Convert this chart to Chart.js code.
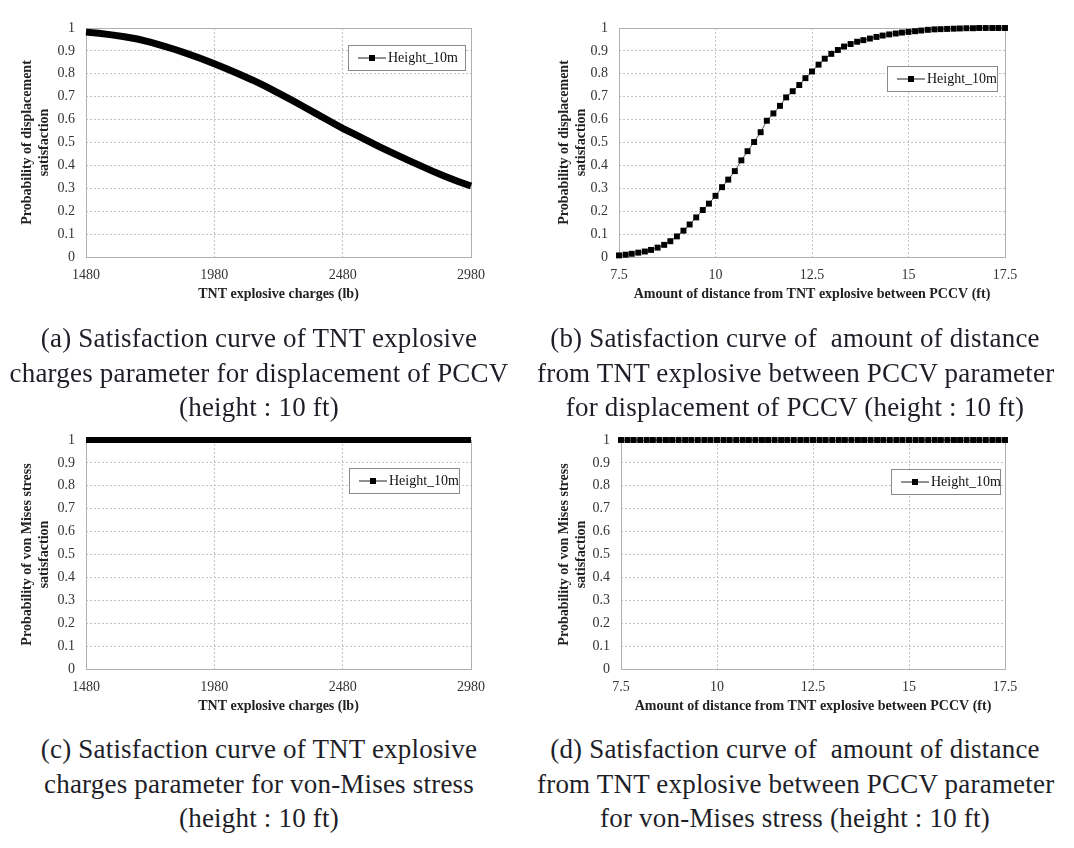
<!DOCTYPE html>
<html>
<head>
<meta charset="utf-8">
<script src="https://cdn.jsdelivr.net/npm/chart.js@4.4.0/dist/chart.umd.min.js"></script>
<style>
  body { margin: 0; background: #fff; width: 1074px; height: 848px; position: relative; overflow: hidden; }
  .panel { position: absolute; width: 537px; height: 310px; }
  .cap {
    position: absolute; text-align: center; color: #1e1e28;
    font-family: "Liberation Serif", "Times New Roman", serif;
    font-size: 27px; letter-spacing: 0.2px; line-height: 34.5px; white-space: nowrap;
  }
</style>
</head>
<body>
<div class="panel" style="left:0;top:0"><canvas id="chartA"></canvas></div>
<div class="panel" style="left:537px;top:0"><canvas id="chartB"></canvas></div>
<div class="panel" style="left:0;top:412px"><canvas id="chartC"></canvas></div>
<div class="panel" style="left:537px;top:412px"><canvas id="chartD"></canvas></div>

<div class="cap" style="left:0;top:321px;width:518px">(a) Satisfaction curve of TNT explosive<br>charges parameter for displacement of PCCV<br>(height : 10 ft)</div>
<div class="cap" style="left:537px;top:321px;width:516px">(b) Satisfaction curve of&nbsp; amount of distance<br>from TNT explosive between PCCV parameter<br>for displacement of PCCV (height : 10 ft)</div>
<div class="cap" style="left:0;top:732px;width:518px">(c) Satisfaction curve of TNT explosive<br>charges parameter for von-Mises stress<br>(height : 10 ft)</div>
<div class="cap" style="left:537px;top:732px;width:516px">(d) Satisfaction curve of&nbsp; amount of distance<br>from TNT explosive between PCCV parameter<br>for von-Mises stress (height : 10 ft)</div>

<script>
// TNT explosive charges (lb), step 50
const charges = [1480, 1530, 1580, 1630, 1680, 1730, 1780, 1830, 1880, 1930,
  1980, 2030, 2080, 2130, 2180, 2230, 2280, 2330, 2380, 2430,
  2480, 2530, 2580, 2630, 2680, 2730, 2780, 2830, 2880, 2930, 2980];
const dispByCharge = [0.982, 0.977, 0.970, 0.962, 0.952, 0.938, 0.922, 0.905, 0.886, 0.866,
  0.844, 0.821, 0.797, 0.772, 0.745, 0.716, 0.686, 0.655, 0.624, 0.593,
  0.562, 0.534, 0.506, 0.478, 0.451, 0.425, 0.400, 0.375, 0.352, 0.330, 0.310];
const stressByCharge = [1, 1, 1, 1, 1, 1, 1, 1, 1, 1,
  1, 1, 1, 1, 1, 1, 1, 1, 1, 1,
  1, 1, 1, 1, 1, 1, 1, 1, 1, 1, 1];

// distance from TNT explosive (ft)
const distances = [7.5, 7.67, 7.83, 8, 8.17, 8.33, 8.5, 8.67, 8.83, 9,
  9.17, 9.33, 9.5, 9.67, 9.83, 10, 10.17, 10.33, 10.5, 10.67,
  10.83, 11, 11.17, 11.33, 11.5, 11.67, 11.83, 12, 12.17, 12.33,
  12.5, 12.67, 12.83, 13, 13.17, 13.33, 13.5, 13.67, 13.83, 14,
  14.17, 14.33, 14.5, 14.67, 14.83, 15, 15.17, 15.33, 15.5, 15.67,
  15.83, 16, 16.17, 16.33, 16.5, 16.67, 16.83, 17, 17.17, 17.33, 17.5];
const dispByDistance = [0.007, 0.010, 0.014, 0.019, 0.024, 0.031, 0.041, 0.053, 0.069, 0.090,
  0.115, 0.142, 0.173, 0.205, 0.233, 0.267, 0.305, 0.338, 0.375, 0.422,
  0.462, 0.502, 0.545, 0.595, 0.627, 0.660, 0.697, 0.724, 0.751, 0.781,
  0.810, 0.840, 0.866, 0.887, 0.904, 0.919, 0.930, 0.940, 0.947, 0.954,
  0.961, 0.967, 0.972, 0.976, 0.980, 0.983, 0.986, 0.989, 0.992, 0.994,
  0.995, 0.996, 0.997, 0.998, 0.999, 0.999, 1.0, 1.0, 1.0, 1.0, 1.0];
const stressByDistance = [1, 1, 1, 1, 1, 1, 1, 1, 1, 1,
  1, 1, 1, 1, 1, 1, 1, 1, 1, 1,
  1, 1, 1, 1, 1, 1, 1, 1, 1, 1,
  1, 1, 1, 1, 1, 1, 1, 1, 1, 1,
  1, 1, 1, 1, 1, 1, 1, 1, 1, 1,
  1, 1, 1, 1, 1, 1, 1, 1, 1, 1, 1];

const chargeTicks = [1480, 1980, 2480, 2980];
const distanceTicks = [7.5, 10, 12.5, 15, 17.5];
const probTicks = [0, 0.1, 0.2, 0.3, 0.4, 0.5, 0.6, 0.7, 0.8, 0.9, 1];
const seriesName = 'Height_10m';

const serif = '"Liberation Serif", "Times New Roman", serif';

// plot frame drawn under the data
const framePlugin = {
  id: 'frame',
  beforeDatasetsDraw(chart) {
    const { ctx, chartArea: a } = chart;
    ctx.save();
    ctx.strokeStyle = '#b0b0b0';
    ctx.lineWidth = 1;
    ctx.strokeRect(Math.round(a.left) + 0.5, Math.round(a.top) + 0.5,
      Math.round(a.right - a.left), Math.round(a.bottom - a.top));
    ctx.restore();
  }
};

// Excel-like boxed legend
const boxLegendPlugin = {
  id: 'boxLegend',
  afterDraw(chart, args, opts) {
    const { ctx } = chart;
    const { x, y, w, h } = opts;
    ctx.save();
    ctx.fillStyle = '#fff';
    ctx.fillRect(x, y, w, h);
    ctx.strokeStyle = '#8a8a8a';
    ctx.lineWidth = 1;
    ctx.strokeRect(x + 0.5, y + 0.5, w, h);
    const my = y + h / 2 + 0.5;
    ctx.strokeStyle = '#222';
    ctx.beginPath();
    ctx.moveTo(x + 10, my);
    ctx.lineTo(x + 38, my);
    ctx.stroke();
    ctx.fillStyle = '#000';
    ctx.fillRect(x + 21, my - 3, 6, 6);
    ctx.font = '14px ' + serif;
    ctx.textBaseline = 'middle';
    ctx.fillStyle = '#111';
    ctx.fillText(seriesName, x + 40, my);
    ctx.restore();
  }
};

function makeChart(id, xs, ys, opt) {
  const points = xs.map((x, i) => ({ x: x, y: ys[i] }));
  new Chart(document.getElementById(id), {
    type: 'line',
    data: {
      datasets: [{
        label: seriesName,
        data: points,
        borderColor: opt.lineColor,
        backgroundColor: '#000',
        pointBackgroundColor: '#000',
        borderWidth: opt.lineWidth,
        borderCapStyle: 'butt',
        pointStyle: 'rect',
        pointRadius: opt.pointRadius,
        pointBorderWidth: 0,
        tension: 0,
        clip: false
      }]
    },
    options: {
      responsive: true,
      maintainAspectRatio: false,
      animation: false,
      events: [],
      layout: { padding: { left: 0, top: 28, right: opt.padRight, bottom: 0 } },
      plugins: {
        legend: { display: false },
        tooltip: { enabled: false },
        boxLegend: opt.legend
      },
      scales: {
        x: {
          type: 'linear',
          min: opt.xTicks[0],
          max: opt.xTicks[opt.xTicks.length - 1],
          afterBuildTicks: s => { s.ticks = opt.xTicks.map(v => ({ value: v })); },
          afterFit: s => { s.height = 53; },
          grid: { color: '#c4c4c4', drawTicks: false },
          border: { display: false, dash: [2, 2] },
          ticks: {
            color: '#333', padding: 10, font: { family: serif, size: 14 }, maxRotation: 0,
            callback: v => String(v)
          },
          title: {
            display: true, text: opt.xTitle, color: '#222',
            font: { family: serif, size: 14, weight: 'bold' },
            padding: { top: 0, bottom: 7 }
          }
        },
        y: {
          min: 0,
          max: 1,
          afterBuildTicks: s => { s.ticks = probTicks.map(v => ({ value: v })); },
          afterFit: s => { s.width = opt.yWidth; },
          grid: { color: '#c4c4c4', drawTicks: false },
          border: { display: false, dash: [2, 2] },
          ticks: {
            color: '#333', padding: 11, font: { family: serif, size: 14 },
            callback: v => String(Math.round(v * 10) / 10)
          },
          title: {
            display: true, text: opt.yTitle, color: '#222',
            font: { family: serif, size: 14, weight: 'bold' },
            padding: { top: 19, bottom: 0 }
          }
        }
      }
    },
    plugins: [framePlugin, boxLegendPlugin]
  });
}

makeChart('chartA', charges, dispByCharge, {
  xTicks: chargeTicks, xTitle: 'TNT explosive charges (lb)',
  yTitle: ['Probability of displacement', 'satisfaction'],
  yWidth: 86, padRight: 66, lineWidth: 7, pointRadius: 0, lineColor: '#000',
  legend: { x: 348, y: 45, w: 117, h: 25 }
});
makeChart('chartB', distances, dispByDistance, {
  xTicks: distanceTicks, xTitle: 'Amount of distance from TNT explosive between PCCV (ft)',
  yTitle: ['Probability of displacement', 'satisfaction'],
  yWidth: 82, padRight: 69, lineWidth: 1, pointRadius: 4.2, lineColor: '#555',
  legend: { x: 350, y: 66, w: 110, h: 25 }
});
makeChart('chartC', charges, stressByCharge, {
  xTicks: chargeTicks, xTitle: 'TNT explosive charges (lb)',
  yTitle: ['Probability of von Mises stress', 'satisfaction'],
  yWidth: 86, padRight: 66, lineWidth: 6, pointRadius: 0, lineColor: '#000',
  legend: { x: 349, y: 56, w: 110, h: 25 }
});
makeChart('chartD', distances, stressByDistance, {
  xTicks: distanceTicks, xTitle: 'Amount of distance from TNT explosive between PCCV (ft)',
  yTitle: ['Probability of von Mises stress', 'satisfaction'],
  yWidth: 84, padRight: 69, lineWidth: 1, pointRadius: 4.2, lineColor: '#555',
  legend: { x: 354, y: 57, w: 109, h: 25 }
});
</script>
</body>
</html>
